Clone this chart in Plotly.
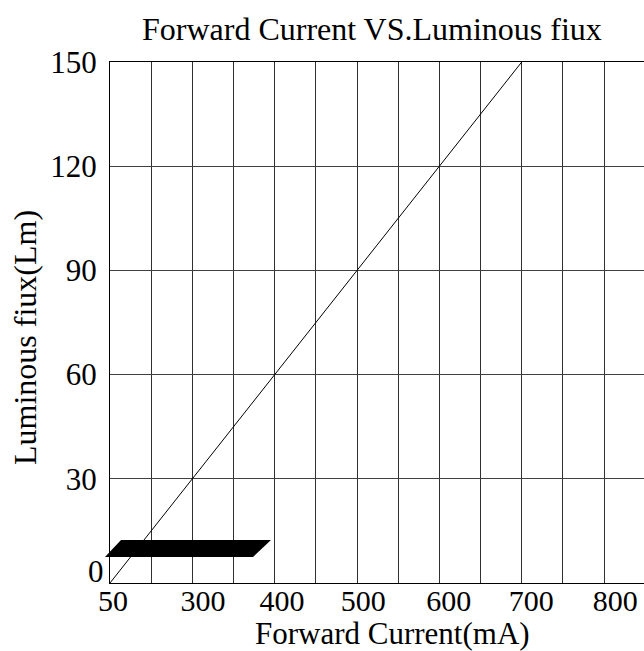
import plotly.graph_objects as go

# ---- data ----
# x positions are expressed in grid-column units (one unit = one vertical grid cell)
grid_columns = list(range(0, 13))
current_pos = [0, 10]          # line runs from the "50" column to the "700" column
luminous_flux = [0, 150]       # Lm

x_tick_pos = [0.07, 2.26, 4.18, 6.15, 8.23, 10.23, 12.27]
x_tick_text = ["50", "300", "400", "500", "600", "700", "800"]

y_tick_vals = [0, 30, 60, 90, 120, 150]
y_tick_text = ["", "30", "60", "90", "120", "150"]

title_text = "Forward Current VS.Luminous fiux"
x_title = "Forward Current(mA)"
y_title = "Luminous fiux(Lm)"

FONT = "Liberation Serif, Times New Roman, serif"
X_RANGE = [0, 12.97]
TICK_SIZE = 31
XTICK_SIZE = 30
TITLE_SIZE = 32
XTITLE_SIZE = 31

fig = go.Figure()
fig.add_trace(go.Scatter(x=current_pos, y=luminous_flux, mode="lines",
                         line=dict(color="black", width=1), showlegend=False,
                         hoverinfo="skip"))
# invisible trace to anchor the label axis
fig.add_trace(go.Scatter(x=[x_tick_pos[0]], y=[0], xaxis="x2", mode="markers",
                         marker=dict(opacity=0), showlegend=False, hoverinfo="skip"))

fig.update_layout(
    width=644, height=651,
    margin=dict(l=110, r=0, t=62, b=68),
    paper_bgcolor="white", plot_bgcolor="white",
    font=dict(family=FONT, size=TITLE_SIZE, color="black"),
    xaxis=dict(range=X_RANGE, tickmode="array", tickvals=grid_columns,
               showticklabels=False, ticks="", showgrid=True,
               gridcolor="#303030", gridwidth=1, zeroline=False,
               showline=True, linecolor="black", linewidth=1, mirror=True),
    xaxis2=dict(range=X_RANGE, overlaying="x", anchor="y", side="bottom",
                tickmode="array", tickvals=x_tick_pos, ticktext=x_tick_text,
                showgrid=False, zeroline=False, ticks="", showline=False,
                tickfont=dict(family=FONT, size=XTICK_SIZE, color="black"),
                ticklabelstandoff=-3),
    yaxis=dict(range=[0, 150], tickmode="array", tickvals=y_tick_vals,
               ticktext=y_tick_text, showgrid=True, gridcolor="#404040",
               gridwidth=1, zeroline=False, ticks="",
               showline=True, linecolor="black", linewidth=1,
               tickfont=dict(family=FONT, size=TICK_SIZE, color="black"),
               ticklabelstandoff=6),
)

# zero label (sits slightly above the axis corner in the reference)
fig.add_annotation(text="0", xref="paper", yref="y", x=0, y=0,
                   xanchor="right", yanchor="middle", xshift=-4, yshift=12,
                   showarrow=False, font=dict(family=FONT, size=TICK_SIZE, color="black"))

# chart title
fig.add_annotation(text=title_text, xref="paper", yref="paper",
                   x=(372 - 110) / 534, y=(583 - 29) / 521,
                   xanchor="center", yanchor="middle", showarrow=False,
                   font=dict(family=FONT, size=TITLE_SIZE, color="black"))
# axis titles
fig.add_annotation(text=x_title, xref="paper", yref="paper",
                   x=(392 - 110) / 534, y=(583 - 633.5) / 521,
                   xanchor="center", yanchor="middle", showarrow=False,
                   borderpad=0,
                   font=dict(family=FONT, size=XTITLE_SIZE, color="black"))
fig.add_annotation(text=y_title, xref="paper", yref="paper",
                   x=(25 - 110) / 534, y=(583 - 338) / 521, textangle=-90,
                   xanchor="center", yanchor="middle", showarrow=False,
                   font=dict(family=FONT, size=TITLE_SIZE, color="black"))

# black parallelogram block near the lower-left corner
fig.add_shape(type="path", xref="paper", yref="paper",
              path="M -0.0094 0.050 L 0.0206 0.0825 L 0.3015 0.0825 L 0.2678 0.050 Z",
              fillcolor="black", line=dict(color="black", width=0))

fig.write_html("out.html",
               config={"displayModeBar": False},
               post_script="document.body.style.margin='0';"
                           "document.body.style.overflow='hidden';")
